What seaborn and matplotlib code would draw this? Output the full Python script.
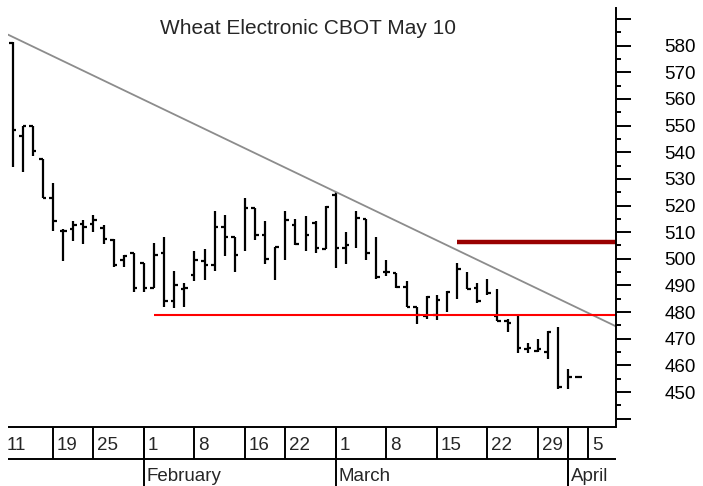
"""
Wheat Electronic CBOT May 10 - daily OHLC bar chart with trend lines
"""
import numpy as np
import pandas as pd
import matplotlib
matplotlib.use('Agg')
import matplotlib.pyplot as plt
from matplotlib.ticker import MultipleLocator
import seaborn as sns

# trading sessions on the axis (exchange closed 18 Jan and 15 Feb)
sessions = pd.bdate_range('2010-01-11', '2010-04-05').drop(
    pd.to_datetime(['2010-01-18', '2010-02-15']))
bar_start = '2010-01-12'

nan = np.nan
opens  = [581, 546, 550, 537.5, 523, 510.5, 511, 513, 513, 511.5, 507, 499.5, 502,
          498.5, 489, 502, 484, 488.5, 494, 499, 497.5, 512, 508, nan, 519, 509, nan, nan,
          512.5, nan, 513.5, 503.5, 524, 504, nan, 515, nan, 495, 494.5, 489.5, 482,
          478.5, 479, nan, nan, nan, 489, nan, 478.5, 476.5, nan, 466, 465.5, 465, nan, nan, 455.5]
highs  = [581.5, 550, 550, 537.5, 528.5, 511, 514, 514.5, 516.5, 512.5, 507.5, 501.5, 502,
          498.5, 506, 508, 495.5, 491, 503, 503.5, 518, 516.5, 508, 523, 519, 514, 504.5, 518,
          515, 516, 514, 520, 525, 510, 518, 515, 508, 499.5, 494.5, 491.5, 482,
          486, 486.5, 488, 498.5, 495, 491, 492.5, 488.5, 477.5, 478.5, 468.5, 470, 473, 474.5, 458.5, 455.5]
lows   = [534.5, 532.5, 538.5, 523, 510.5, 499, 506.5, 505.5, 510, 505.5, 497, 497, 487.5,
          487.5, 489, 482, 481.5, 482, 491.5, 492, 495.5, 501, 495, 503, 507, 498, 492, 499.5,
          505, 503, 502, 503.5, 496.5, 498, 504, 499.5, 492.5, 493.5, 489, 482, 475.5,
          477.5, 477, 480, 485, 488.5, 483.5, 486.5, 476.5, 472.5, 464.5, 464.5, 465, 462.5, 451, 451, 455.5]
closes = [548.5, 550, 540.5, 523, 514, 510.5, 512.5, 512, 514.5, 507.5, 497.5, 501, 489,
          489, 501.5, 484, 490, 489, 499.5, 497.5, 512, 508, 501.5, 519, 509, 500, 504.5, 514.5,
          505.5, 509, 504, 519.5, 504, 505, 515.5, 502, 493, 495, 489.5, 482, 479,
          485.5, 484.5, 487.5, 496, 488.5, 484, 487, 476.5, 476, 466.5, 466.5, 466, 472.5, 452, 455.5, 455.5]

# trend line through two highs, support and resistance levels
trend_dates = ['2010-01-11', '2010-03-01']
trend_prices = [585.1, 525.1]
support_start, support_price = '2010-02-02', 479
resist_start, resist_price = '2010-03-17', 506.2

week_starts = ['2010-01-11', '2010-01-19', '2010-01-25', '2010-02-01', '2010-02-08',
               '2010-02-16', '2010-02-22', '2010-03-01', '2010-03-08', '2010-03-15',
               '2010-03-22', '2010-03-29', '2010-04-05']
month_starts = ['2010-02-01', '2010-03-01', '2010-04-01']
month_names = ['February', 'March', 'April']

y_ticks = list(range(440, 600, 10))
y_labels = [str(v) if 450 <= v <= 580 else '' for v in y_ticks]

sns.set_style('white')
plt.rcParams['font.family'] = ['Liberation Sans', 'DejaVu Sans']

pos = {d: i for i, d in enumerate(sessions)}
def xpos(d):
    return pos[pd.Timestamp(d)]

x = np.arange(len(opens)) + xpos(bar_start)
o, h, l, c = map(np.array, (opens, highs, lows, closes))
XLIM = (0.545, 60.74)

fig = plt.figure(figsize=(7.03, 4.86), dpi=100)
ax = fig.add_axes([8/703, 1 - 427/486, 608/703, 419/486])
band = fig.add_axes([8/703, 0, 608/703, 59/486])

# OHLC bars
ax.vlines(x, l, h, color='black', lw=1.6)
m = ~np.isnan(o)
ax.hlines(o[m], x[m] - 0.35, x[m], color='black', lw=1.6)
m = ~np.isnan(c)
ax.hlines(c[m], x[m], x[m] + 0.35, color='black', lw=1.6)

ax.axline((xpos(trend_dates[0]), trend_prices[0]), (xpos(trend_dates[1]), trend_prices[1]),
          color='#8c8c8c', lw=1.3)
ax.hlines(support_price, xpos(support_start), XLIM[1], color='#ff0000', lw=1.5)
ax.hlines(resist_price, xpos(resist_start), XLIM[1], color='#990000', lw=3.2)

ax.set_xlim(XLIM)
ax.set_ylim(436.9, 594.1)
ax.yaxis.tick_right()
ax.set_yticks(y_ticks)
ax.set_yticklabels(y_labels)
ax.yaxis.set_minor_locator(MultipleLocator(5))
ax.tick_params(axis='y', which='major', length=10.8, width=1.4, pad=24,
               labelsize=13.5, color='black', labelcolor='black', right=True)
ax.tick_params(axis='y', which='minor', length=3.6, width=1.4, color='black', right=True)
ax.set_xticks([])
for s in ['top', 'left', 'bottom']:
    ax.spines[s].set_visible(False)
ax.spines['right'].set_color('black')
ax.spines['right'].set_linewidth(1.4)

# date band
band.set_xlim(XLIM)
band.set_ylim(0, 1)
band.axis('off')
mid = 1 - 32/59
band.hlines([1, mid], XLIM[0], XLIM[1], color='black', lw=1.4, clip_on=False)
band.vlines([xpos(d) for d in week_starts], mid, 1, color='black', lw=1.4)
band.vlines([xpos(d) for d in month_starts] + [xpos('2010-04-01')], 0, 1, color='black', lw=1.4)
for d in week_starts:
    band.text(xpos(d) + 0.4, 0.61, str(pd.Timestamp(d).day), fontsize=13.5,
              ha='left', va='baseline')
for d, name in zip(month_starts, month_names):
    band.text(xpos(d) + 0.3, 0.09, name, fontsize=13.5, ha='left', va='baseline')

fig.text(308/703, 1 - 29/486, 'Wheat Electronic CBOT May 10', ha='center', va='center',
         fontsize=15)

fig.savefig('out.png', dpi=100, facecolor='white')
